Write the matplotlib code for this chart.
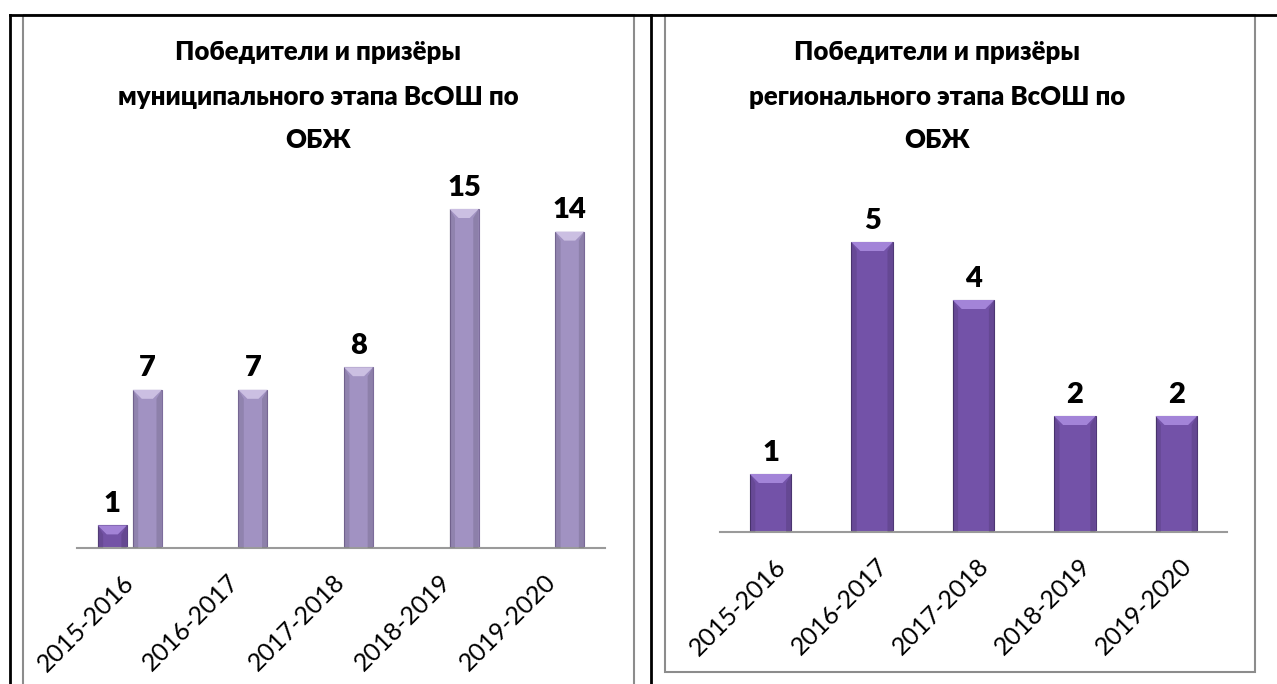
import numpy as np
import matplotlib.pyplot as plt
import matplotlib.transforms as mtransforms
from matplotlib.patches import Polygon, Rectangle
from matplotlib.lines import Line2D

plt.rcParams['font.family'] = ['Lato', 'DejaVu Sans']

years = ['2015-2016', '2016-2017', '2017-2018', '2018-2019', '2019-2020']

# муниципальный этап: два ряда, первый только в 2015-2016
mun_s1 = [1, None, None, None, None]
mun_s2 = [7, 7, 8, 15, 14]
# региональный этап
reg_vals = [1, 5, 4, 2, 2]

title_left = ['Победители и призёры', 'муниципального этапа ВсОШ по', 'ОБЖ']
title_right = ['Победители и призёры', 'регионального этапа ВсОШ по', 'ОБЖ']

W, H = 1277, 684
fig = plt.figure(figsize=(W / 100, H / 100), dpi=100)

# слой для рамок таблицы, в пикселях
bg = fig.add_axes([0, 0, 1, 1])
bg.set_xlim(0, W)
bg.set_ylim(H, 0)
bg.axis('off')
bg.add_patch(Rectangle((23, 15), 611, 680, fill=False, ec='#8c8c8c', lw=1.5))
bg.add_patch(Rectangle((665, 15), 590, 657, fill=False, ec='#8c8c8c', lw=1.5))
bg.add_line(Line2D([10, W], [15, 15], color='black', lw=2))
bg.add_line(Line2D([10, 10], [15, H], color='black', lw=2))
bg.add_line(Line2D([650.5, 650.5], [15, H], color='black', lw=2))


def fig_axes(x0, y_base, x1, y_top):
    return fig.add_axes([x0 / W, (H - y_base) / H, (x1 - x0) / W, (y_base - y_top) / H])


def bevel(ax, x, w, h, color, px_per_unit, px_per_cat):
    # светлая фаска сверху столбца
    b = 9
    bx = b / px_per_cat
    by = b / px_per_unit
    if h < by * 2.2:
        by = h / 2.2
    x0, x1 = x - w / 2, x + w / 2
    ax.add_patch(Polygon([(x0, h), (x1, h), (x1 - bx, h - by), (x0 + bx, h - by)],
                         closed=True, fc=color, ec='none', zorder=3))
    ax.add_patch(Polygon([(x0, h), (x0 + bx * 0.6, h - by), (x0 + bx * 0.6, 0), (x0, 0)],
                         closed=True, fc='black', alpha=0.10, ec='none', zorder=3))
    ax.add_patch(Polygon([(x1, h), (x1 - bx * 0.6, h - by), (x1 - bx * 0.6, 0), (x1, 0)],
                         closed=True, fc='black', alpha=0.12, ec='none', zorder=3))


def style_axes(ax, ymax, shift_px=0):
    ax.set_ylim(0, ymax)
    ax.set_xlim(-0.5, len(years) - 0.5)
    for s in ['top', 'right', 'left']:
        ax.spines[s].set_visible(False)
    ax.spines['bottom'].set_color('#9a9a9a')
    ax.spines['bottom'].set_linewidth(1.5)
    ax.set_yticks([])
    ax.set_xticks(range(len(years)))
    ax.set_xticklabels(years, rotation=45, ha='right', va='center',
                       rotation_mode='anchor', fontsize=18)
    ax.tick_params(axis='x', length=0, pad=22)
    if shift_px:
        off = mtransforms.ScaledTranslation(shift_px / 100, 0, fig.dpi_scale_trans)
        for lab in ax.get_xticklabels():
            lab.set_transform(lab.get_transform() + off)
    ax.patch.set_alpha(0)


# левая диаграмма
axl = fig_axes(77, 548, 605, 186.4)
style_axes(axl, 16)
x = np.arange(len(years))
bw = 0.275
off = 0.166
dark = '#7453a6'
light = '#a192c2'
s1x = [xi - off for xi, v in zip(x, mun_s1) if v is not None]
s1v = [v for v in mun_s1 if v is not None]
b1 = axl.bar(s1x, s1v, width=bw, color=dark, edgecolor='#5b4284', lw=0.8, zorder=2)
b2 = axl.bar(x + off, mun_s2, width=bw, color=light, edgecolor='#7d6d9c', lw=0.8, zorder=2)
for xi, v in zip(s1x, s1v):
    bevel(axl, xi, bw, v, '#a383d6', 22.6, 105.6)
for xi, v in zip(x + off, mun_s2):
    bevel(axl, xi, bw, v, '#cbbfe2', 22.6, 105.6)
axl.bar_label(b1, padding=6, fontsize=21, fontweight='heavy')
axl.bar_label(b2, padding=6, fontsize=21, fontweight='heavy')

# правая диаграмма
axr = fig_axes(720, 532, 1227, 184)
style_axes(axr, 6, shift_px=12)
bwr = 0.41
b3 = axr.bar(x, reg_vals, width=bwr, color='#7352a8', edgecolor='#4f3877', lw=0.8, zorder=2)
for xi, v in zip(x, reg_vals):
    bevel(axr, xi, bwr, v, '#a384d8', 58, 101.4)
axr.bar_label(b3, padding=6, fontsize=21, fontweight='heavy')

for lines, cx in [(title_left, 318), (title_right, 937)]:
    for line, cy in zip(lines, [52, 97, 140]):
        fig.text(cx / W, 1 - cy / H, line, ha='center', va='center',
                 fontsize=18.5, fontweight='heavy')

fig.savefig('out.png', dpi=100)
